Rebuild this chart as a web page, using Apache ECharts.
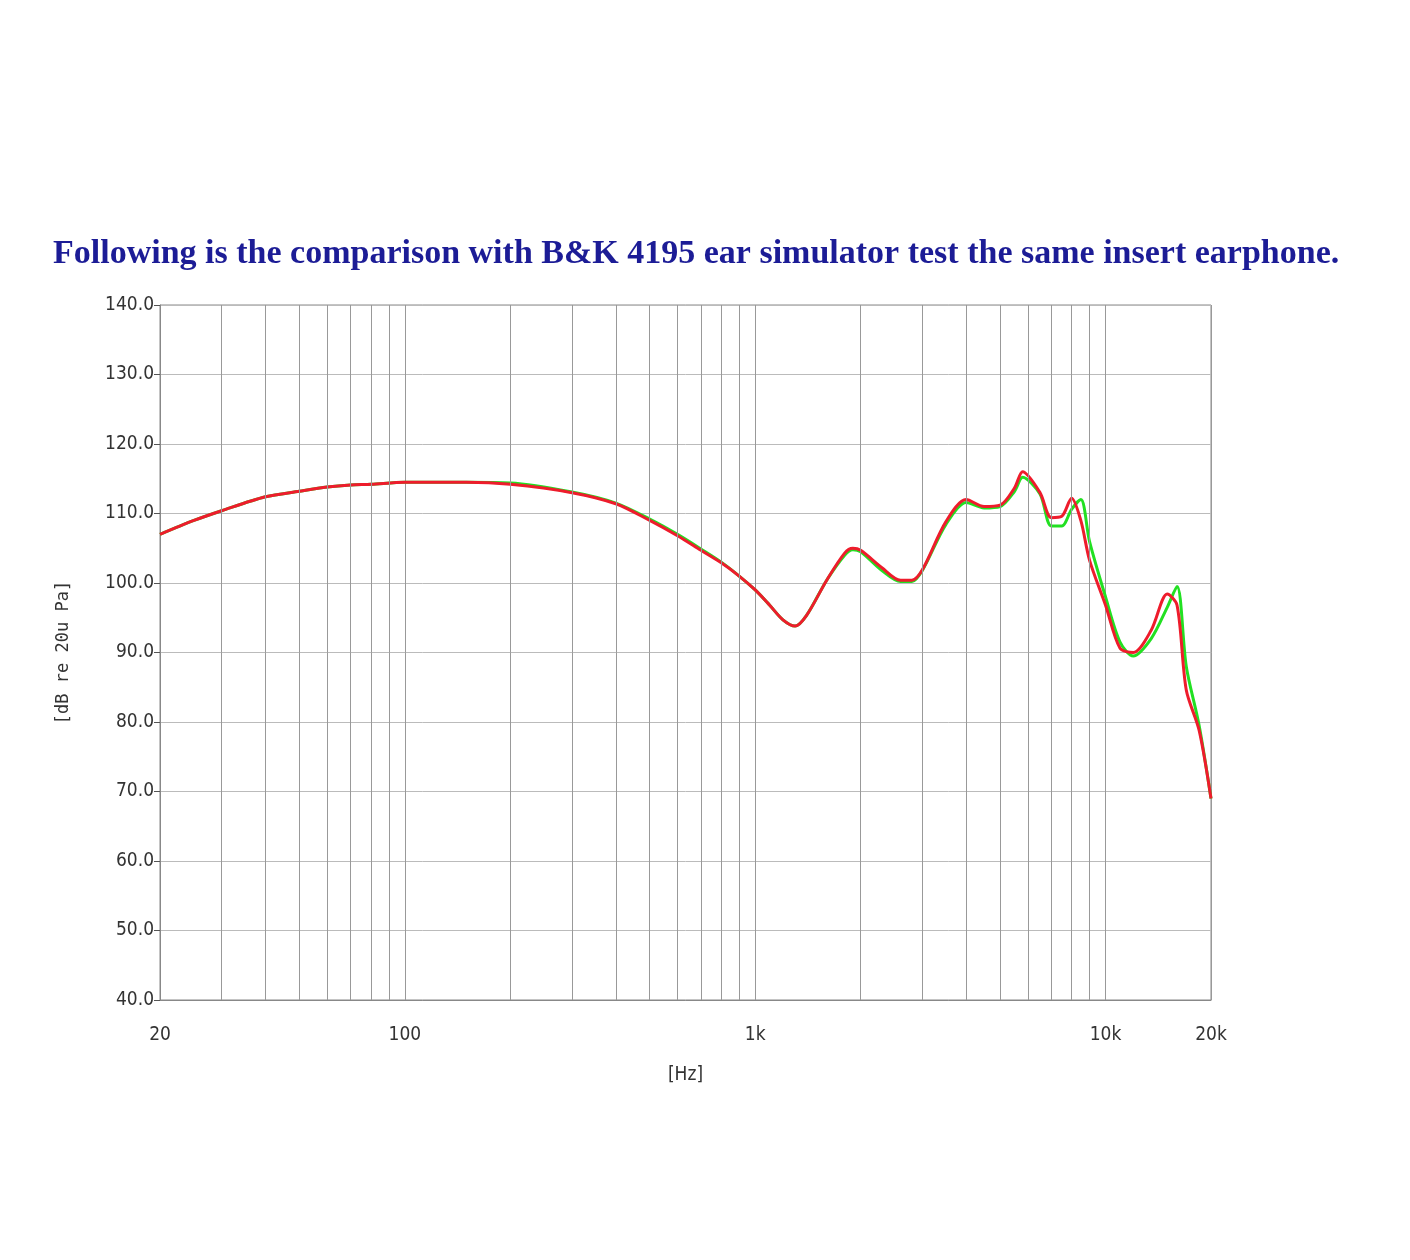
<!DOCTYPE html>
<html>
<head>
<meta charset="utf-8">
<script src="https://cdn.jsdelivr.net/npm/echarts@6/dist/echarts.min.js"></script>
<style>html,body{margin:0;padding:0;background:#fff}#main{width:1410px;height:1260px}</style>
</head>
<body>
<div id="main"></div>
<script>
// frequency points (Hz) and levels (dB)
var freqs = [20, 25, 30, 40, 50, 60, 70, 80, 100, 150, 200, 300, 400, 500, 600, 700, 800, 900, 1000, 1100, 1200, 1300, 1400, 1600, 1800, 1900, 2000, 2300, 2600, 2800, 3000, 3500, 4000, 4500, 5000, 5500, 5800, 6500, 7000, 7500, 8000, 8500, 9000, 10000, 11000, 12000, 13500, 15000, 16000, 17000, 18500, 20000];
var redDb = [107, 109, 110.4, 112.4, 113.2, 113.8, 114.1, 114.2, 114.5, 114.5, 114.2, 113, 111.4, 109, 106.8, 104.7, 102.9, 101, 99, 96.8, 94.7, 93.8, 95.3, 100.4, 104.3, 105, 104.7, 102.2, 100.4, 100.4, 101.9, 108.8, 112, 111, 111.2, 113.7, 116, 113, 109.4, 109.6, 112.2, 109, 103.3, 96.8, 90.6, 90, 93.2, 98.4, 96.8, 84.6, 78.8, 69];
var greenDb = [107, 109, 110.4, 112.4, 113.2, 113.8, 114.1, 114.2, 114.5, 114.5, 114.4, 113.1, 111.5, 109.2, 107, 104.9, 103, 101, 99, 96.8, 94.7, 93.8, 95.3, 100.4, 104, 104.8, 104.5, 101.8, 100.2, 100.2, 101.8, 108.4, 111.6, 110.8, 111, 113.2, 115.2, 112.8, 108.2, 108.2, 110.6, 112, 106, 98, 91.5, 89.5, 92, 96.5, 99.5, 88, 79.5, 69];
var minorFreqs = [30, 40, 50, 60, 70, 80, 90, 200, 300, 400, 500, 600, 700, 800, 900, 2000, 3000, 4000, 5000, 6000, 7000, 8000, 9000];

function pairs(ys) { return freqs.map(function (f, i) { return [f, ys[i]]; }); }

var chart = echarts.init(document.getElementById('main'));
var labelFont = { fontFamily: 'Liberation Sans Narrow, DejaVu Sans Condensed', fontSize: 19, color: '#333' };
chart.setOption({
    title: {
        text: 'Following is the comparison with B&K 4195 ear simulator test the same insert earphone.',
        left: 48, top: 232,
        textStyle: { fontFamily: 'Liberation Serif', fontWeight: 'bold', fontSize: 34, color: '#1c1c96' }
    },
    grid: { left: 160, right: 199, top: 305, bottom: 260, show: true, borderColor: '#888', borderWidth: 1 },
    xAxis: {
        type: 'log', logBase: 10, min: 20, max: 20000,
        name: '[Hz]', nameLocation: 'middle', nameGap: 66,
        nameTextStyle: labelFont,
        axisLine: { lineStyle: { color: '#888' } },
        axisTick: { show: false },
        axisLabel: Object.assign({ margin: 26, formatter: function (v) {
            v = Math.round(v);
            return v >= 1000 ? (v / 1000) + 'k' : String(v);
        } }, labelFont),
        splitLine: { show: true, lineStyle: { color: '#999', width: 1 } }
    },
    yAxis: {
        type: 'value', min: 40, max: 140, interval: 10,
        name: '[dB re 20u Pa]', nameLocation: 'middle', nameGap: 88, nameRotate: 90,
        nameTextStyle: { fontFamily: 'DejaVu Sans Mono', fontSize: 17, color: '#333' },
        axisLine: { show: true, lineStyle: { color: '#888' } },
        axisTick: { show: true, length: 6, lineStyle: { color: '#555' } },
        axisLabel: Object.assign({ margin: 6, formatter: function (v) { return v.toFixed(1); } }, labelFont),
        splitLine: { lineStyle: { color: '#bbb' } }
    },
    series: [{
        name: 'B&K 4195', type: 'line', data: pairs(greenDb), smooth: 0.3, symbol: 'none',
        lineStyle: { color: '#22e022', width: 3 },
        markLine: {
            silent: true, symbol: 'none', label: { show: false },
            lineStyle: { color: '#999', width: 1, type: 'solid' },
            data: minorFreqs.map(function (f) { return { xAxis: f }; })
        }
    }, {
        name: 'Test', type: 'line', data: pairs(redDb), smooth: 0.3, symbol: 'none',
        lineStyle: { color: '#ee1c2c', width: 3 }
    }]
});
</script>
</body>
</html>
